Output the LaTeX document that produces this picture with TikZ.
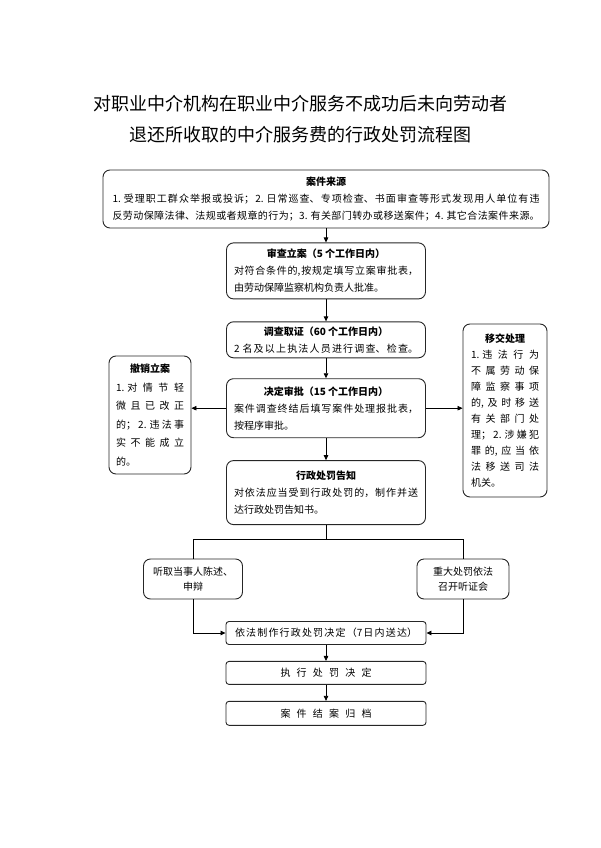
\documentclass[tikz,border=0pt]{standalone}
\usepackage{fontspec}
\setmainfont{Noto Sans CJK SC}
\usetikzlibrary{positioning,arrows.meta}
\XeTeXlinebreaklocale "zh"
\XeTeXlinebreakskip=0pt plus 1pt
\tolerance=10000
\hbadness=10000
\newcommand{\boxtitle}[1]{\makebox[\hsize]{\bfseries #1}\\}
\newcommand{\num}[1]{#1.\hspace{3pt}}
\newcommand{\fillline}{\nobreak\hspace*{0pt plus -1fil}\null}

\begin{document}
\begin{tikzpicture}[x=1pt, y=-1pt,
    every node/.style={font=\fontsize{10}{17}\selectfont},
    box/.style={draw=black!85, line width=0.9pt, rounded corners=7pt,
                inner xsep=7pt, inner ysep=3pt, align=justify},
    slim/.style={draw=black!85, line width=0.9pt, rounded corners=3pt,
                 inner ysep=2pt, align=justify, minimum width=200pt},
    arr/.style={-{Triangle[length=5pt,width=4.5pt]}, line width=0.8pt},
    link/.style={line width=0.8pt},
]
  \useasboundingbox (0,0) rectangle (600,848);
  % Title
  \node[font=\fontsize{18}{31}\selectfont, align=center] (title) at (300,119)
    {对职业中介机构在职业中介服务不成功后未向劳动者\\退还所收取的中介服务费的行政处罚流程图};
  % Main column
  \node[box, minimum width=446pt, minimum height=58pt, text width=427pt] (src) at (326,199)
    {\boxtitle{案件来源}
     \num1受理职工群众举报或投诉；\num2日常巡查、专项检查、书面审查等形式发现用人单位有违\linebreak
     反劳动保障法律、法规或者规章的行为；\num3有关部门转办或移送案件；\num4其它合法案件来源。\fillline};
  \node[box, below=14pt of src, minimum width=199pt, minimum height=56pt, text width=184pt] (chk)
    {\boxtitle{审查立案（5 个工作日内）}
     对符合条件的,按规定填写立案审批表，\linebreak 由劳动保障监察机构负责人批准。};
  \node[box, below=22pt of chk, minimum width=199pt, minimum height=36pt, text width=184pt] (inv)
    {\boxtitle{调查取证（60 个工作日内）}
     2\hspace{3pt}名及以上执法人员进行调查、检查。\fillline};
  \node[box, below=20pt of inv, minimum width=199pt, minimum height=59pt, text width=184pt] (dec)
    {\boxtitle{决定审批（15 个工作日内）}
     案件调查终结后填写案件处理报批表，\linebreak 按程序审批。};
  \node[box, below=22pt of dec, minimum width=199pt, minimum height=64pt, text width=184pt] (ntc)
    {\boxtitle{行政处罚告知}
     对依法应当受到行政处罚的，制作并送\linebreak 达行政处罚告知书。};
  % Side boxes
  \node[box, minimum width=82pt, minimum height=118pt, text width=68pt,
        font=\fontsize{10}{18.5}\selectfont] (rev) at (150,415)
    {\boxtitle{撤销立案}
     \num1对情节轻\linebreak 微且已改正\linebreak 的；\num2违法事\linebreak 实不能成立\linebreak 的。};
  \node[box, minimum width=84pt, minimum height=173pt, text width=68pt,
        font=\fontsize{10}{16}\selectfont] (tr) at (505,410.5)
    {\boxtitle{移交处理}
     \num1违法行为\linebreak 不属劳动保\linebreak 障监察事项\linebreak 的,及时移送\linebreak
     有关部门处\linebreak 理；\num2涉嫌犯\linebreak 罪的,应当依\linebreak 法移送司法\linebreak 机关。};
  % Hearing branch
  \node[box, align=center, minimum width=99pt, minimum height=40pt,
        font=\fontsize{10}{15}\selectfont] (hr) at (193,579) {听取当事人陈述、\\申辩};
  \node[box, align=center, minimum width=92pt, minimum height=40pt,
        font=\fontsize{10}{15}\selectfont] (hg) at (463,579) {重大处罚依法\\召开听证会};
  % Bottom steps
  \node[slim, below=96pt of ntc, minimum height=23pt, text width=182pt] (mk)
    {依法制作行政处罚决定（7日内送达）\fillline};
  \node[slim, below=16pt of mk, minimum height=23pt, text width=91pt] (exe)
    {执行处罚决定\fillline};
  \node[slim, below=16pt of exe, minimum height=24pt, text width=91pt] (arc)
    {案件结案归档\fillline};
  % Arrows
  \draw[arr] (src.south) -- (chk.north);
  \draw[arr] (chk) -- (inv);
  \draw[arr] (inv) -- (dec);
  \draw[arr] (dec) -- (ntc);
  \draw[arr] (dec.west) -- (dec.west -| rev.east);
  \draw[arr] (dec.east) -- (dec.east -| tr.west);
  \coordinate[below=14pt of ntc] (fork);
  \draw[link] (ntc) -- (fork);
  \draw[link] (hr.north) |- (fork) -| (hg.north);
  \draw[arr] (hr.south) |- (mk.west);
  \draw[arr] (hg.south) |- (mk.east);
  \draw[arr] (mk) -- (exe);
  \draw[arr] (exe) -- (arc);
\end{tikzpicture}
\end{document}
